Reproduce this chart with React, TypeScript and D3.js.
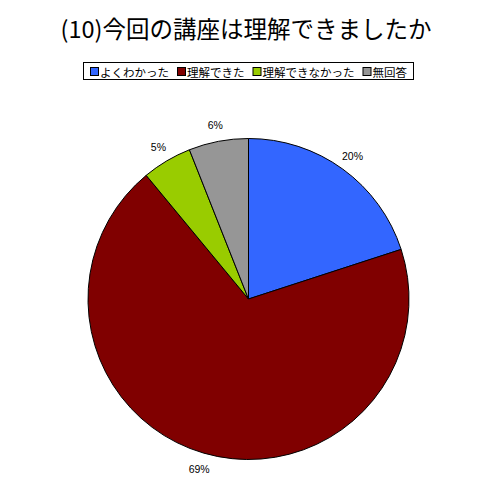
import React, { useEffect, useRef } from 'react';
import * as d3 from 'd3';

const title = '(10)今回の講座は理解できましたか';
const categories = ['よくわかった', '理解できた', '理解できなかった', '無回答'];
const values = [20, 69, 5, 6];
const colors = ['#3366ff', '#800000', '#99cc00', '#969696'];

const App: React.FC = () => {
	const svgRef = useRef<SVGSVGElement | null>(null);

	useEffect(() => {
		if (svgRef.current == null) return;

		const width = 500;
		const height = 500;
		const cx = 248.5;
		const cy = 299;
		const radius = 160.5;
		const labelRadius = 177;
		const jp = '"Noto Sans CJK JP", sans-serif';

		const svg = d3.select(svgRef.current);
		svg.selectAll('*').remove();
		svg.attr('width', width).attr('height', height);

		svg.append('rect')
			.attr('width', width)
			.attr('height', height)
			.attr('fill', '#ffffff');

		// title
		svg.append('text')
			.attr('x', 246)
			.attr('y', 28)
			.attr('text-anchor', 'middle')
			.attr('dominant-baseline', 'central')
			.attr('font-family', jp)
			.attr('font-size', 23.5)
			.attr('fill', '#000')
			.text(title);

		// legend
		const legend = svg.append('g');
		const box = legend.append('rect')
			.attr('fill', '#fff')
			.attr('stroke', '#000')
			.attr('stroke-width', 1);
		let x = 0;
		categories.forEach((c, i) => {
			legend.append('rect')
				.attr('x', x + 0.5)
				.attr('y', 67.5)
				.attr('width', 8)
				.attr('height', 8)
				.attr('fill', colors[i])
				.attr('stroke', '#000')
				.attr('stroke-width', 1);
			const t = legend.append('text')
				.attr('x', x + 10)
				.attr('y', 71.5)
				.attr('dominant-baseline', 'central')
				.attr('font-family', jp)
				.attr('font-size', 11.5)
				.attr('fill', '#000')
				.text(c);
			const w = (t.node() as SVGTextElement).getComputedTextLength();
			x = x + 10 + w + (i < categories.length - 1 ? 8 : 0);
		});
		const legendW = x;
		const lx = Math.round(248 - legendW / 2);
		legend.attr('transform', `translate(${lx},0)`);
		box.attr('x', -6.5)
			.attr('y', 62.5)
			.attr('width', legendW + 13)
			.attr('height', 17);

		// pie
		const pie = d3.pie<number>().sort(null).value(d => d);
		const arcs = pie(values);
		const arc = d3.arc<d3.PieArcDatum<number>>()
			.innerRadius(0)
			.outerRadius(radius);

		const g = svg.append('g')
			.attr('transform', `translate(${cx},${cy})`);

		g.selectAll('path')
			.data(arcs)
			.enter()
			.append('path')
			.attr('d', arc)
			.attr('fill', (d, i) => colors[i])
			.attr('stroke', '#000')
			.attr('stroke-width', 1);

		const total = d3.sum(values);
		g.selectAll('text.label')
			.data(arcs)
			.enter()
			.append('text')
			.attr('class', 'label')
			.attr('x', d => labelRadius * Math.sin((d.startAngle + d.endAngle) / 2))
			.attr('y', d => -labelRadius * Math.cos((d.startAngle + d.endAngle) / 2))
			.attr('text-anchor', 'middle')
			.attr('dominant-baseline', 'central')
			.attr('font-family', '"Liberation Sans", Arial, sans-serif')
			.attr('font-size', 10.5)
			.attr('fill', '#000')
			.text(d => `${Math.round((d.value / total) * 100)}%`);
	}, []);

	return (
		<svg ref={svgRef} style={{ position: 'absolute', left: 0, top: 0, display: 'block' }}></svg>
	);
};

export default App;
